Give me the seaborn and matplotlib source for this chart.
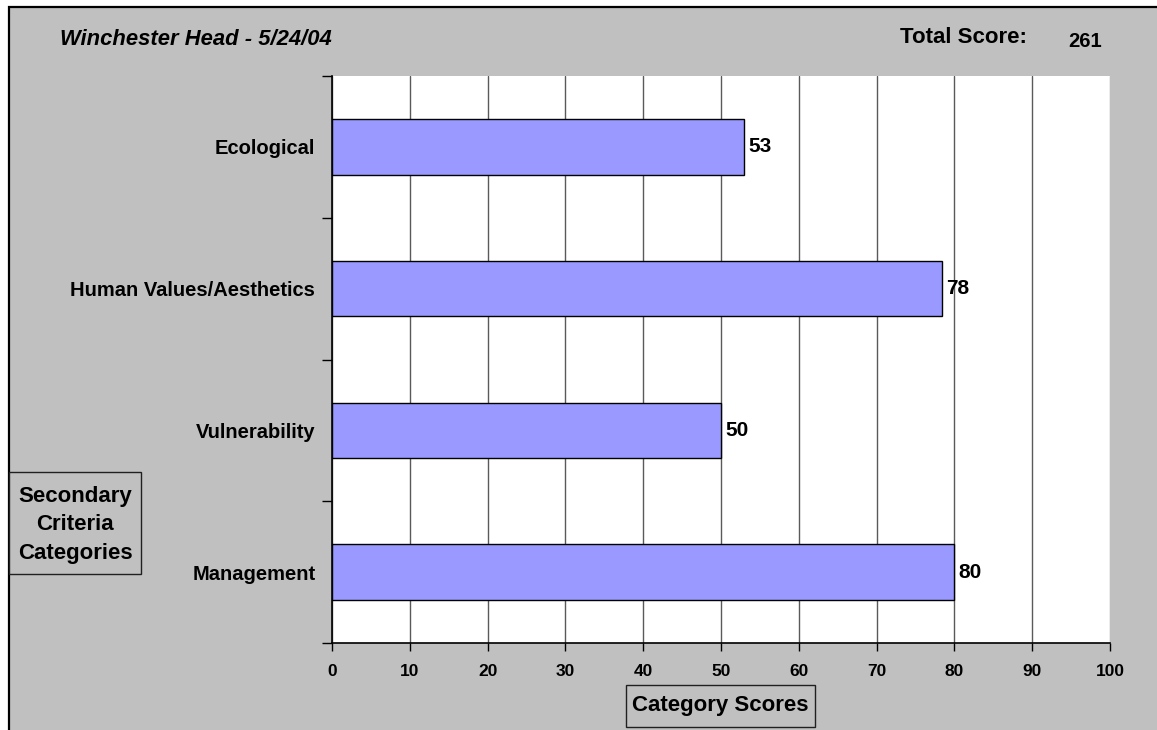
import matplotlib
matplotlib.use("Agg")
import matplotlib.pyplot as plt
from matplotlib.patches import Rectangle
from matplotlib.ticker import FixedLocator
import seaborn as sns
import pandas as pd

categories = ["Ecological", "Human Values/Aesthetics", "Vulnerability", "Management"]
scores = [53, 78.4, 50, 80]
x_ticks = [0, 10, 20, 30, 40, 50, 60, 70, 80, 90, 100]
title_text = "Winchester Head - 5/24/04"
total_label = "Total Score:"
total_value = "261"
x_label = "Category Scores"
y_label = "Secondary\nCriteria\nCategories"

df = pd.DataFrame({"Category": categories, "Score": scores})

sns.set_style("white")
plt.rcParams["font.family"] = ["Liberation Sans", "DejaVu Sans"]
plt.rcParams.update({"text.color": "black", "xtick.color": "black",
                     "ytick.color": "black", "axes.labelcolor": "black"})

W, H = 1157, 730
fig = plt.figure(figsize=(W / 100, H / 100), dpi=100)
fig.patch.set_facecolor("white")

# grey chart area with border on top/left
bg = Rectangle((8.5 / W, -0.05), 1.1, (H - 6.5) / H + 0.05, transform=fig.transFigure,
               facecolor="#C0C0C0", edgecolor="black", linewidth=1.6, zorder=-10)
fig.patches.append(bg)

ax = fig.add_axes([332 / W, (H - 643) / H, (1110 - 332) / W, (643 - 76) / H])
ax.set_facecolor("white")

sns.barplot(data=df, x="Score", y="Category", orient="h", color="#9999FF",
            saturation=1, width=0.39, edgecolor="black", linewidth=1, ax=ax, zorder=3)

ax.set_xlim(0, 100)
ax.set_ylim(3.5, -0.5)
ax.set_xticks(x_ticks)
ax.set_xticklabels([str(t) for t in x_ticks], fontsize=12.5, fontweight="bold", color="black")
ax.tick_params(axis="x", which="major", bottom=True, direction="out", length=6, width=1,
               color="black", pad=9)
ax.set_yticks(range(len(categories)))
ax.set_yticklabels(categories, fontsize=14.5, fontweight="bold", color="black")
ax.tick_params(axis="y", which="major", left=True, length=0, pad=12)
ax.yaxis.set_minor_locator(FixedLocator([-0.5, 0.5, 1.5, 2.5, 3.5]))
ax.tick_params(axis="y", which="minor", left=True, direction="out", length=7, width=1,
               color="black")

ax.xaxis.grid(True, color="#5a5a5a", linewidth=1, zorder=0)
ax.get_xgridlines()[-1].set_color("#9a9a9a")
ax.yaxis.grid(False)
ax.set_axisbelow(True)
for s in ["top", "right"]:
    ax.spines[s].set_visible(False)
for s in ["left", "bottom"]:
    ax.spines[s].set_color("black")
    ax.spines[s].set_linewidth(1.2)
    ax.spines[s].set_zorder(5)
ax.set_xlabel("")
ax.set_ylabel("")

for c in ax.containers:
    ax.bar_label(c, fmt="%.0f", padding=3, fontsize=15, fontweight="bold", color="black")

# title and total
fig.text(60 / W, (H - 45) / H, title_text, fontsize=15.8, fontweight="bold",
         fontstyle="italic", ha="left", va="baseline", color="black")
fig.text(900 / W, (H - 43) / H, total_label, fontsize=16, fontweight="bold",
         ha="left", va="baseline", color="black")
fig.text(1068 / W, (H - 47) / H, total_value, fontsize=14.5, fontweight="bold",
         ha="left", va="baseline", color="black")

# y label box
fig.patches.append(Rectangle((8.5 / W, (H - 574) / H), (141 - 8.5) / W, (574 - 472) / H,
                             transform=fig.transFigure, facecolor="#C0C0C0",
                             edgecolor="#202020", linewidth=1, zorder=1))
fig.text(75 / W, (H - 525) / H, y_label, fontsize=16, fontweight="bold", ha="center",
         va="center", multialignment="center", linespacing=1.45, zorder=2, color="black")

# x label box
fig.patches.append(Rectangle((626 / W, (H - 727) / H), (815 - 626) / W, (727 - 685) / H,
                             transform=fig.transFigure, facecolor="#C0C0C0",
                             edgecolor="#202020", linewidth=1, zorder=1))
fig.text(720.5 / W, (H - 706) / H, x_label, fontsize=16, fontweight="bold", ha="center",
         va="center", zorder=2, color="black")

fig.savefig("out.png", dpi=100, facecolor=fig.get_facecolor())
